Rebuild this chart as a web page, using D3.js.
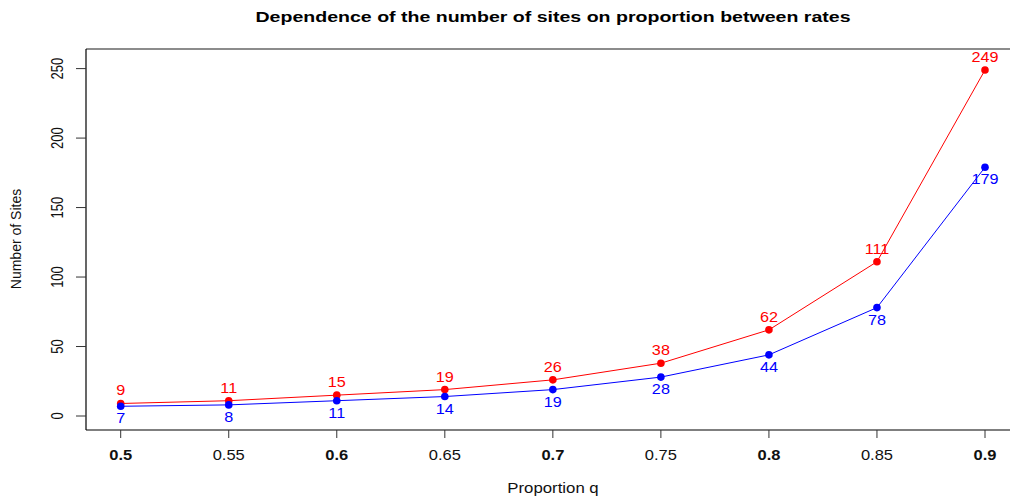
<!DOCTYPE html>
<html>
<head>
<meta charset="utf-8">
<script src="https://cdn.jsdelivr.net/npm/d3@7"></script>
<style>
  html, body { margin: 0; padding: 0; background: #fff; }
  svg { display: block; font-family: "Liberation Sans", Arial, Helvetica, sans-serif; }
</style>
</head>
<body>
<svg id="chart" width="1010" height="496"></svg>
<script>
const proportions = [0.5, 0.55, 0.6, 0.65, 0.7, 0.75, 0.8, 0.85, 0.9];
const xTickLabels = ["0.5", "0.55", "0.6", "0.65", "0.7", "0.75", "0.8", "0.85", "0.9"];
const boldTicks = [true, false, true, false, true, false, true, false, true];
const redSites = [9, 11, 15, 19, 26, 38, 62, 111, 249];
const blueSites = [7, 8, 11, 14, 19, 28, 44, 78, 179];
const yTicks = [0, 50, 100, 150, 200, 250];

const svg = d3.select("#chart");
const box = { left: 86, right: 1020, top: 49, bottom: 430 };

const x = d3.scaleLinear().domain([0.5, 0.9]).range([120.7, 985]);
const y = d3.scaleLinear().domain([0, 250]).range([416, 68.6]);

// Title
svg.append("text")
  .attr("x", 553).attr("y", 22)
  .attr("text-anchor", "middle")
  .attr("font-weight", "bold")
  .attr("font-size", 15.5)
  .attr("textLength", 595)
  .attr("lengthAdjust", "spacingAndGlyphs")
  .text("Dependence of the number of sites on proportion between rates");

// Box (left + bottom black, top grey)
svg.append("line").attr("x1", box.left).attr("x2", box.right).attr("y1", box.top).attr("y2", box.top)
  .attr("stroke", "#666").attr("stroke-width", 1.5);
svg.append("line").attr("x1", box.left).attr("x2", box.left).attr("y1", box.top).attr("y2", box.bottom)
  .attr("stroke", "#000").attr("stroke-width", 1.2);
svg.append("line").attr("x1", box.left).attr("x2", box.right).attr("y1", box.bottom).attr("y2", box.bottom)
  .attr("stroke", "#000").attr("stroke-width", 1.2);

// Y axis ticks
const yAxis = svg.append("g");
yAxis.selectAll("line.tick").data(yTicks).join("line")
  .attr("x1", 76).attr("x2", box.left)
  .attr("y1", d => y(d)).attr("y2", d => y(d))
  .attr("stroke", "#333").attr("stroke-width", 1);
yAxis.selectAll("text").data(yTicks).join("text")
  .attr("transform", d => `translate(63,${y(d)}) rotate(-90) scale(1,1.3)`)
  .attr("text-anchor", "middle")
  .attr("font-size", 13)
  .attr("fill", "#111")
  .text(d => d);

// X axis ticks
const xAxis = svg.append("g");
xAxis.selectAll("line").data(proportions).join("line")
  .attr("x1", d => x(d)).attr("x2", d => x(d))
  .attr("y1", box.bottom).attr("y2", 438)
  .attr("stroke", "#333").attr("stroke-width", 1);
xAxis.selectAll("text").data(proportions).join("text")
  .attr("transform", d => `translate(${x(d)},460) scale(1.1,1)`)
  .attr("text-anchor", "middle")
  .attr("font-size", 15)
  .attr("font-weight", (d, i) => boldTicks[i] ? "bold" : "normal")
  .attr("fill", "#111")
  .text((d, i) => xTickLabels[i]);

// Axis titles
svg.append("text")
  .attr("transform", "translate(553,493) scale(1.12,1)")
  .attr("text-anchor", "middle")
  .attr("font-size", 15)
  .attr("fill", "#111")
  .text("Proportion q");
svg.append("text")
  .attr("transform", "translate(21,239) rotate(-90)")
  .attr("text-anchor", "middle")
  .attr("font-size", 14)
  .attr("fill", "#111")
  .text("Number of Sites");

// Series
const line = d3.line().x(d => x(d[0])).y(d => y(d[1]));
function drawSeries(values, color, above) {
  const pts = proportions.map((p, i) => [p, values[i]]);
  svg.append("path").datum(pts)
    .attr("d", line).attr("fill", "none")
    .attr("stroke", color).attr("stroke-width", 1);
  svg.append("g").selectAll("circle").data(pts).join("circle")
    .attr("cx", d => x(d[0])).attr("cy", d => y(d[1])).attr("r", 3.8)
    .attr("fill", color);
  svg.append("g").selectAll("text").data(pts).join("text")
    .attr("transform", d => `translate(${x(d[0])},${y(d[1]) + (above ? -8 : 17)}) scale(1.08,1)`)
    .attr("text-anchor", "middle")
    .attr("font-size", 15)
    .attr("fill", color)
    .text(d => d[1]);
}
drawSeries(redSites, "#ff0000", true);
drawSeries(blueSites, "#0000ff", false);
</script>
</body>
</html>
